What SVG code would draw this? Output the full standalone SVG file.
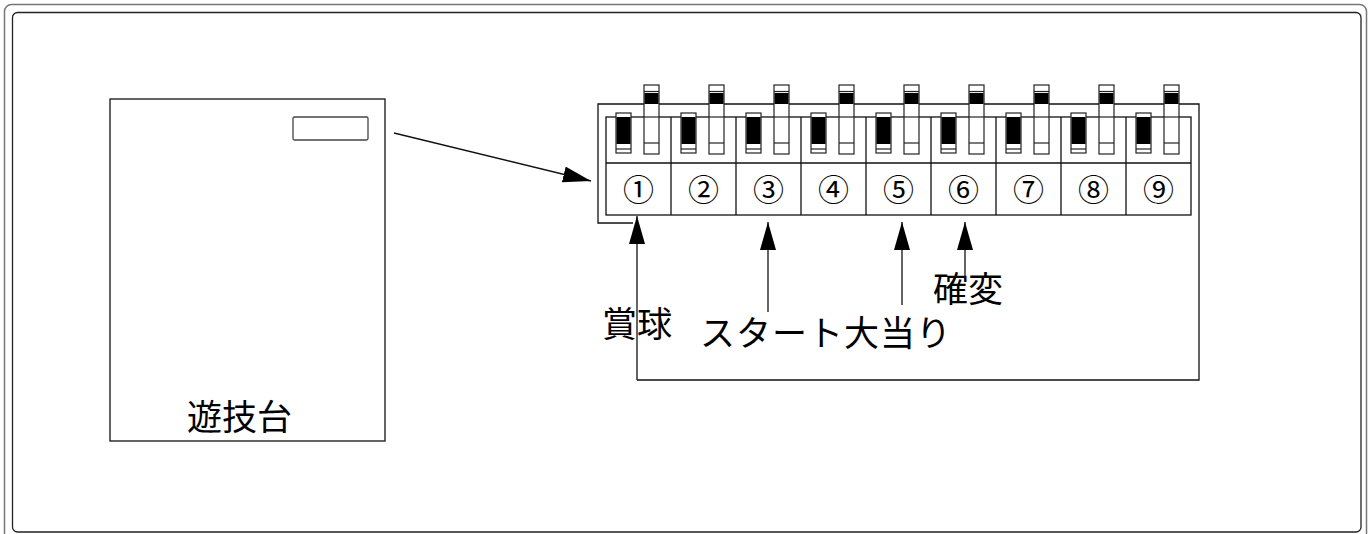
<svg xmlns="http://www.w3.org/2000/svg" width="1370" height="534" viewBox="0 0 1370 534">
<style>
.ln{fill:none;stroke:#111;stroke-width:1.3}
.box{fill:#fff;stroke:#111;stroke-width:1.3}
.sw{fill:#fff;stroke:#222;stroke-width:1.2}
.blk{fill:#000}
.lbl{font-family:"Noto Sans CJK JP","Noto Sans CJK SC",sans-serif;font-size:35px;fill:#000}
.num{font-family:"Noto Sans CJK JP","DejaVu Sans",sans-serif;font-size:31px;fill:#000;text-anchor:middle}
</style>
<defs>
<marker id="ah" markerUnits="userSpaceOnUse" markerWidth="30" markerHeight="18" refX="28" refY="8" orient="auto">
<path d="M0,0 L28,8 L0,16 z" fill="#000"/>
</marker>
<g id="switch">
<rect class="sw" x="10" y="-4" width="15" height="40"/>
<rect class="blk" x="10.5" y="0" width="14" height="27"/>
<line class="sw" x1="10" y1="32" x2="25" y2="32"/>
<rect class="sw" x="38" y="-32" width="15" height="69"/>
<line class="sw" x1="38" y1="-25.5" x2="53" y2="-25.5"/>
<rect class="blk" x="38.5" y="-24" width="14" height="11"/>
<line class="sw" x1="38" y1="0" x2="53" y2="0"/>
<line class="sw" x1="38" y1="26" x2="53" y2="26"/>
</g>
</defs>
<rect x="4.5" y="4.5" width="1362" height="545" rx="7" fill="none" stroke="#777" stroke-width="1.5"/>
<rect x="12.5" y="12.5" width="1348.5" height="519.5" rx="5" fill="none" stroke="#222" stroke-width="1.3"/>
<g id="machine">
<rect class="box" x="110" y="99" width="275" height="342"/>
<rect x="293" y="117" width="75" height="23" rx="1.5" fill="#fff" stroke="#444" stroke-width="1.3"/>
<text class="lbl" x="187" y="430">遊技台</text>
</g>
<g id="dipswitch">
<path class="ln" d="M633,223 H598 V104 H1199 V380 H637"/>
<rect class="box" x="606" y="117" width="585" height="98"/>
<line class="ln" x1="606" y1="163" x2="1191" y2="163"/>
<g class="ln">
<line x1="671" y1="117" x2="671" y2="215"/><line x1="736" y1="117" x2="736" y2="215"/>
<line x1="801" y1="117" x2="801" y2="215"/><line x1="866" y1="117" x2="866" y2="215"/>
<line x1="931" y1="117" x2="931" y2="215"/><line x1="996" y1="117" x2="996" y2="215"/>
<line x1="1061" y1="117" x2="1061" y2="215"/><line x1="1126" y1="117" x2="1126" y2="215"/>
</g>
<use href="#switch" x="606" y="117"/><use href="#switch" x="671" y="117"/>
<use href="#switch" x="736" y="117"/><use href="#switch" x="801" y="117"/>
<use href="#switch" x="866" y="117"/><use href="#switch" x="931" y="117"/>
<use href="#switch" x="996" y="117"/><use href="#switch" x="1061" y="117"/>
<use href="#switch" x="1126" y="117"/>
<text class="num" x="638.5" y="201">①</text>
<text class="num" x="703.5" y="201">②</text>
<text class="num" x="768.5" y="201">③</text>
<text class="num" x="833.5" y="201">④</text>
<text class="num" x="898.5" y="201">⑤</text>
<text class="num" x="963.5" y="201">⑥</text>
<text class="num" x="1028.5" y="201">⑦</text>
<text class="num" x="1093.5" y="201">⑧</text>
<text class="num" x="1158.5" y="201">⑨</text>
</g>
<g id="labels">
<text class="lbl" x="602" y="337">賞球</text>
<text class="lbl" x="700" y="346" letter-spacing="1">スタート大当り</text>
<text class="lbl" x="933" y="302">確変</text>
</g>
<g id="connectors" class="ln" marker-end="url(#ah)">
<line x1="394" y1="133" x2="591" y2="181"/>
<line x1="637" y1="380" x2="637" y2="216"/>
<line x1="768" y1="312" x2="768" y2="222"/>
<line x1="902" y1="305" x2="902" y2="222"/>
<line x1="965" y1="279" x2="965" y2="222"/>
</g>
</svg>
